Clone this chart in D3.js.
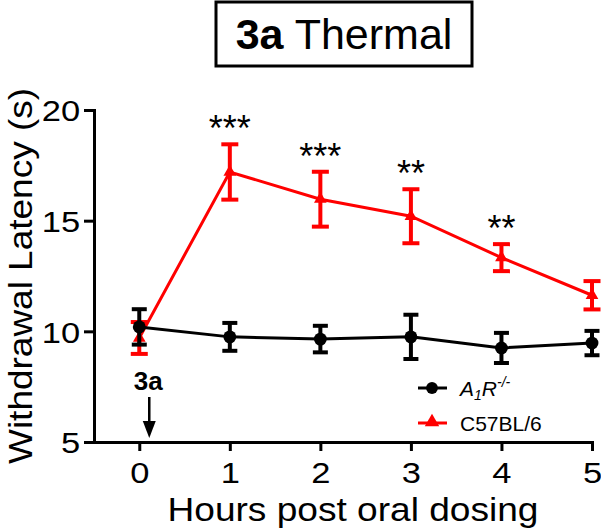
<!DOCTYPE html>
<html>
<head>
<meta charset="utf-8">
<script src="https://cdn.jsdelivr.net/npm/d3@7"></script>
<style>
  html, body { margin: 0; padding: 0; background: #fff; }
  svg { display: block; font-family: "Liberation Sans", Arial, sans-serif; }
</style>
</head>
<body>
<svg id="chart" width="601" height="531"></svg>
<script>
// ---- data ----
const hours = [0, 1, 2, 3, 4, 5];
const knockoutMean = [10.2, 9.75, 9.65, 9.75, 9.25, 9.47];
const knockoutErr  = [0.8, 0.63, 0.6, 1.0, 0.68, 0.55];
const wildMean = [9.7, 17.2, 15.97, 15.2, 13.33, 11.63];
const wildErr  = [0.72, 1.25, 1.24, 1.22, 0.61, 0.64];
const significance = ["", "***", "***", "**", "**", ""];
const yTicks = [5, 10, 15, 20];
const xTicks = [0, 1, 2, 3, 4, 5];
const titleBold = "3a";
const titleRest = " Thermal";
const xTitle = "Hours post oral dosing";
const yTitle = "Withdrawal Latency (s)";
const doseLabel = "3a";
const legendWild = "C57BL/6";

const RED = "#ff0000";
const svg = d3.select("#chart");

const x = d3.scaleLinear().domain([-0.5, 5]).range([94, 592]);
const y = d3.scaleLinear().domain([5, 20]).range([442, 110]);

// ---- title box ----
svg.append("rect").attr("x", 216).attr("y", 2).attr("width", 256).attr("height", 64)
  .attr("fill", "none").attr("stroke", "#000").attr("stroke-width", 3);
const tt = svg.append("text").attr("x", 344).attr("y", 49).attr("text-anchor", "middle")
  .attr("font-size", 43).attr("fill", "#000");
tt.append("tspan").attr("font-weight", "bold").text(titleBold);
tt.append("tspan").text(titleRest);

// ---- axes ----
const xAxis = svg.append("g").attr("transform", `translate(0,${y(5)})`)
  .call(d3.axisBottom(x).tickValues(xTicks).tickSizeOuter(0).tickSizeInner(9).tickFormat(d3.format("d")));
const yAxis = svg.append("g").attr("transform", `translate(${x(-0.5)},0)`)
  .call(d3.axisLeft(y).tickValues(yTicks).tickSizeOuter(0).tickSizeInner(10).tickFormat(d3.format("d")));
[xAxis, yAxis].forEach(a => {
  a.select(".domain").attr("stroke", "#000").attr("stroke-width", 3).attr("stroke-linecap", "square");
  a.selectAll(".tick line").attr("stroke", "#000").attr("stroke-width", 3);
  a.selectAll(".tick text").attr("font-family", "Liberation Sans, Arial, sans-serif")
    .attr("font-size", 30).attr("fill", "#000").attr("transform", "scale(1.15,1)");
});
xAxis.selectAll(".tick text").attr("y", 41).attr("dy", 0);
yAxis.selectAll(".tick text").attr("x", -12).attr("dy", "0.36em");

svg.append("text").attr("x", 353).attr("y", 521).attr("text-anchor", "middle")
  .attr("font-size", 34).attr("textLength", 371).attr("lengthAdjust", "spacingAndGlyphs").text(xTitle);
svg.append("text").attr("transform", `translate(32,${(y(5) + y(20)) / 2}) rotate(-90)`)
  .attr("text-anchor", "middle").attr("font-size", 34).attr("textLength", 376)
  .attr("lengthAdjust", "spacingAndGlyphs").text(yTitle);

// ---- series ----
function drawSeries(means, errs, color, capW, marker) {
  const g = svg.append("g");
  const pts = hours.map((h, i) => ({ h, m: means[i], e: errs[i] }));
  g.append("path").datum(pts)
    .attr("d", d3.line().x(d => x(d.h)).y(d => y(d.m)))
    .attr("fill", "none").attr("stroke", color).attr("stroke-width", 3);
  const eb = g.selectAll(".eb").data(pts).enter().append("g");
  eb.append("line").attr("x1", d => x(d.h)).attr("x2", d => x(d.h))
    .attr("y1", d => y(d.m + d.e)).attr("y2", d => y(d.m - d.e))
    .attr("stroke", color).attr("stroke-width", 4);
  eb.append("line").attr("x1", d => x(d.h) - capW / 2).attr("x2", d => x(d.h) + capW / 2)
    .attr("y1", d => y(d.m + d.e)).attr("y2", d => y(d.m + d.e))
    .attr("stroke", color).attr("stroke-width", 4);
  eb.append("line").attr("x1", d => x(d.h) - capW / 2).attr("x2", d => x(d.h) + capW / 2)
    .attr("y1", d => y(d.m - d.e)).attr("y2", d => y(d.m - d.e))
    .attr("stroke", color).attr("stroke-width", 4);
  g.selectAll(".mk").data(pts).enter().append("path")
    .attr("transform", d => `translate(${x(d.h)},${y(d.m)})`)
    .attr("d", d3.symbol().type(marker.type).size(marker.size)())
    .attr("fill", color);
}
drawSeries(wildMean, wildErr, RED, 17, { type: d3.symbolTriangle, size: 70 });
drawSeries(knockoutMean, knockoutErr, "#000", 15, { type: d3.symbolCircle, size: 130 });

// ---- significance stars ----
svg.selectAll(".sig").data(hours.map((h, i) => ({ h, s: significance[i], top: wildMean[i] + wildErr[i] })))
  .enter().append("text")
  .attr("x", d => x(d.h)).attr("y", d => y(d.top) - 3)
  .attr("text-anchor", "middle").attr("font-size", 36)
  .attr("fill", "#000").text(d => d.s);

// ---- dosing arrow ----
const ax = x(0) + 10;
svg.append("text").attr("x", ax - 1).attr("y", 390).attr("text-anchor", "middle")
  .attr("font-size", 26).attr("font-weight", "bold").text(doseLabel);
svg.append("line").attr("x1", ax).attr("x2", ax).attr("y1", 397).attr("y2", 425)
  .attr("stroke", "#000").attr("stroke-width", 2.5);
svg.append("path").attr("d", `M${ax - 6.5},421 L${ax + 6.5},421 L${ax},438 Z`).attr("fill", "#000");

// ---- legend ----
const lg = svg.append("g");
lg.append("line").attr("x1", 418).attr("x2", 447).attr("y1", 388).attr("y2", 388)
  .attr("stroke", "#000").attr("stroke-width", 3);
lg.append("path").attr("transform", "translate(432,388)")
  .attr("d", d3.symbol().type(d3.symbolCircle).size(110)()).attr("fill", "#000");
const lt = lg.append("text").attr("x", 460).attr("y", 396).attr("font-size", 21).attr("font-style", "italic");
lt.append("tspan").text("A");
lt.append("tspan").attr("font-size", 14).attr("dy", 4).text("1");
lt.append("tspan").attr("dy", -4).text("R");
lt.append("tspan").attr("font-size", 14).attr("dy", -9).text("-/-");

lg.append("line").attr("x1", 418).attr("x2", 447).attr("y1", 423).attr("y2", 423)
  .attr("stroke", RED).attr("stroke-width", 3);
lg.append("path").attr("transform", "translate(432,422)")
  .attr("d", d3.symbol().type(d3.symbolTriangle).size(90)()).attr("fill", RED);
lg.append("text").attr("x", 460).attr("y", 431).attr("font-size", 21).text(legendWild);
</script>
</body>
</html>
